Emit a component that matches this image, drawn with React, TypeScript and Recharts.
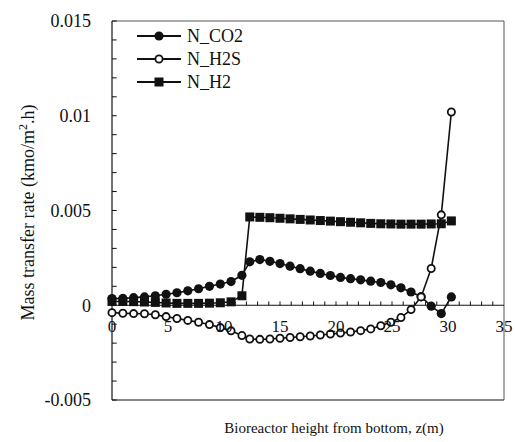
import React from 'react';
import { LineChart, Line, XAxis, YAxis, ReferenceLine, ReferenceDot, Legend } from 'recharts';

// bioreactor height z (m) – two grid sections, below and above the feed point
const zHeights = [
  0, 0.97, 1.93, 2.9, 3.87, 4.83, 5.8, 6.77, 7.73, 8.7, 9.67, 10.63, 11.6,
  12.3, 13.2, 14.1, 15.0, 15.9, 16.8, 17.7, 18.6, 19.5, 20.4, 21.3, 22.2, 23.1,
  24.0, 24.9, 25.8, 26.7, 27.6, 28.5, 29.4, 30.3,
];

// mass transfer rates (kmol/m2.h)
const nCO2 = [
  0.00035, 0.00036, 0.0004, 0.00044, 0.0005, 0.00058, 0.00066, 0.00076, 0.00087, 0.001, 0.00112, 0.00125, 0.00158,
  0.00229, 0.00241, 0.00232, 0.0022, 0.00206, 0.00193, 0.0018, 0.00168, 0.00157, 0.00147, 0.0014, 0.00134, 0.00127,
  0.0012, 0.00108, 0.00092, 0.0007, 0.00045, -0.00005, -0.00044, 0.00044,
];
const nH2S = [
  -0.00039, -0.00042, -0.00044, -0.00045, -0.0005, -0.0006, -0.0007, -0.0008, -0.0009, -0.00102, -0.00118, -0.00135, -0.0016,
  -0.00178, -0.0018, -0.00178, -0.00174, -0.0017, -0.00166, -0.00162, -0.00157, -0.00152, -0.00147, -0.00141, -0.00134, -0.00125,
  -0.00108, -0.0009, -0.00065, -0.00023, 0.00044, 0.00194, 0.00477, 0.0102,
];
const nH2 = [
  0.0002, 0.0002, 0.00019, 0.00017, 0.00015, 0.00012, 0.0001, 0.0001, 0.0001, 0.00011, 0.00013, 0.00018, 0.0005,
  0.00466, 0.00464, 0.00462, 0.00459, 0.00456, 0.00453, 0.0045, 0.00447, 0.00444, 0.00441, 0.00438, 0.00435, 0.00432,
  0.0043, 0.00429, 0.00428, 0.00428, 0.00428, 0.00429, 0.0043, 0.00445,
];

const xTickValues = [0, 5, 10, 15, 20, 25, 30, 35];
const yTickValues = [-0.005, 0, 0.005, 0.01, 0.015];
const xMinorTicks = Array.from({ length: 34 }, (_, i) => i + 1);
const yMinorTicks = Array.from({ length: 21 }, (_, i) => Math.round((-0.005 + i * 0.001) * 1e4) / 1e4);

const data = zHeights.map((z, i) => ({ z, co2: nCO2[i], h2s: nH2S[i], h2: nH2[i] }));

const FONT = "'Liberation Serif', 'Times New Roman', serif";
const INK = '#111';

const filledCircle = (cx: number, cy: number, key?: any) => <circle key={key} cx={cx} cy={cy} r={4.6} fill={INK} />;
const openCircle = (cx: number, cy: number, key?: any) => (
  <circle key={key} cx={cx} cy={cy} r={3.6} fill="#fff" stroke={INK} strokeWidth={1.8} />
);
const filledSquare = (cx: number, cy: number, key?: any) => (
  <rect key={key} x={cx - 4.5} y={cy - 4.5} width={9} height={9} fill={INK} />
);

const legendItems = [
  { name: 'N_CO2', marker: filledCircle },
  { name: 'N_H2S', marker: openCircle },
  { name: 'N_H2', marker: filledSquare },
];

const renderLegend = () => (
  <div style={{ fontFamily: FONT, fontSize: 18, color: INK, lineHeight: 1 }}>
    {legendItems.map((it) => (
      <div key={it.name} style={{ display: 'flex', alignItems: 'center', height: 23 }}>
        <svg width={44} height={20}>
          <line x1={0} y1={10} x2={44} y2={10} stroke={INK} strokeWidth={1.8} />
          {it.marker(22, 10)}
        </svg>
        <span style={{ marginLeft: 6 }}>{it.name}</span>
      </div>
    ))}
  </div>
);

const xTitle = (props: any) => {
  const vb = props.viewBox;
  return (
    <text x={vb.x + vb.width / 2 + 26} y={vb.y + vb.height - 9} textAnchor="middle" style={{ fontFamily: FONT }} fontSize={15} fill={INK}>
      Bioreactor height from bottom, z(m)
    </text>
  );
};

const yTitle = (props: any) => {
  const vb = props.viewBox;
  const cx = vb.x + 8;
  const cy = vb.y + vb.height / 2 + 2;
  return (
    <text
      x={cx}
      y={cy}
      dy="0.35em"
      textAnchor="middle"
      transform={`rotate(-90, ${cx}, ${cy})`}
      style={{ fontFamily: FONT }}
      fontSize={18}
      fill={INK}
    >
      Mass transfer rate (kmo/m<tspan dy={-7} fontSize={12}>2</tspan>
      <tspan dy={7}>.h)</tspan>
    </text>
  );
};

export default function App() {
  return (
    <div style={{ position: 'absolute', left: 0, top: 0, background: '#fff', fontFamily: FONT }}>
      <LineChart width={515} height={442} data={data} margin={{ top: 21, right: 11, bottom: 0, left: 20 }} style={{ fontFamily: FONT }}>
        <XAxis
          type="number"
          dataKey="z"
          domain={[0, 35]}
          ticks={xTickValues}
          tick={false}
          tickLine={false}
          height={42}
          axisLine={{ stroke: INK, strokeWidth: 1.2 }}
          label={xTitle}
        />
        <YAxis
          type="number"
          domain={[-0.005, 0.015]}
          ticks={yTickValues}
          interval={0}
          width={92}
          tickLine={false}
          tickSize={0}
          tickMargin={21}
          axisLine={{ stroke: INK, strokeWidth: 1.2 }}
          tick={{ fill: INK, fontSize: 18, style: { fontFamily: FONT } }}
          tickFormatter={(v: number) => String(v)}
          label={yTitle}
        />
        <ReferenceLine y={0.015} stroke="#555" />
        <ReferenceLine x={35} stroke="#555" />
        <ReferenceLine y={0} stroke={INK} strokeWidth={1.2} />
        {xMinorTicks.map((v) => (
          <ReferenceLine key={`xt${v}`} segment={[{ x: v, y: 0 }, { x: v, y: 0.0002 }]} stroke={INK} />
        ))}
        {yMinorTicks.map((v) => (
          <ReferenceLine key={`yt${v}`} segment={[{ x: 0, y: v }, { x: 0.42, y: v }]} stroke={INK} />
        ))}
        {xTickValues.map((v) => (
          <ReferenceDot
            key={`xl${v}`}
            x={v}
            y={0}
            r={0}
            fill="none"
            stroke="none"
            label={{ value: String(v), position: 'bottom', offset: 15, fill: INK, fontSize: 17, style: { fontFamily: FONT } }}
          />
        ))}
        <Line
          dataKey="h2"
          type="linear"
          stroke={INK}
          strokeWidth={1.6}
          dot={(p: any) => filledSquare(p.cx, p.cy, p.index)}
          activeDot={false}
          isAnimationActive={false}
        />
        <Line
          dataKey="co2"
          type="linear"
          stroke={INK}
          strokeWidth={1.6}
          dot={(p: any) => filledCircle(p.cx, p.cy, p.index)}
          activeDot={false}
          isAnimationActive={false}
        />
        <Line
          dataKey="h2s"
          type="linear"
          stroke={INK}
          strokeWidth={1.6}
          dot={(p: any) => openCircle(p.cx, p.cy, p.index)}
          activeDot={false}
          isAnimationActive={false}
        />
        <Legend
          content={renderLegend}
          layout="horizontal"
          verticalAlign="middle"
          align="center"
          wrapperStyle={{ left: 137, top: 24, width: 'auto' }}
        />
      </LineChart>
    </div>
  );
}
